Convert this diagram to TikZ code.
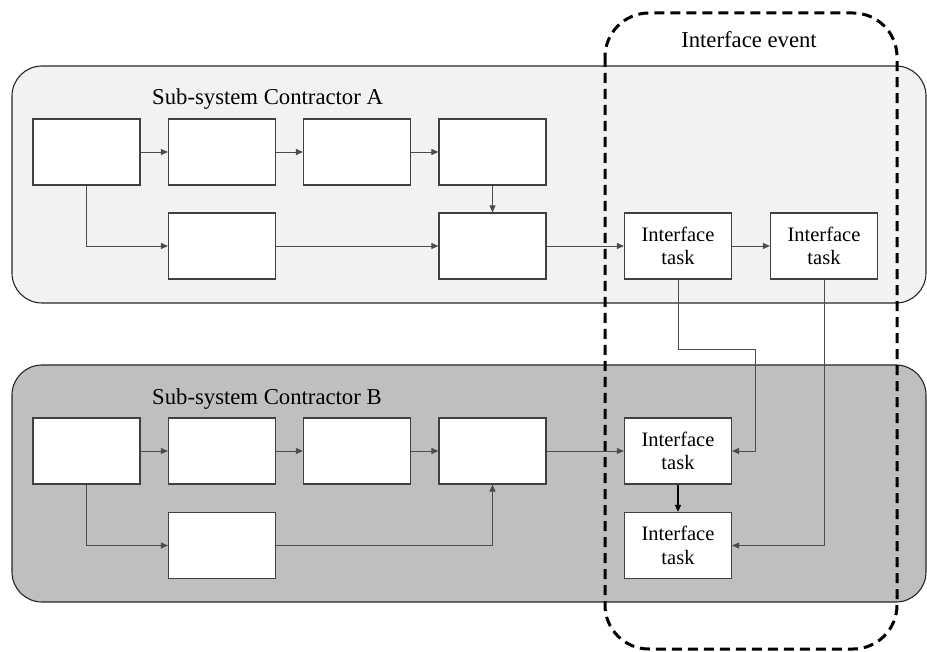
\documentclass[tikz,border=0pt]{standalone}
\usepackage{fontspec}
\setmainfont{Liberation Serif}
\newfontfamily\labelfont{Liberation Serif}
\usetikzlibrary{arrows.meta}

\begin{document}
\begin{tikzpicture}[x=1pt,y=-1pt,
  container/.style={draw=black!85, line width=1.1pt, rounded corners=30pt},
  taskbox/.style={draw=black!75, line width=1.2pt, fill=white,
    minimum width=107pt, minimum height=66pt, inner sep=0pt,
    align=center, font=\labelfont\fontsize{20.5}{23.5}\selectfont},
  conn/.style={draw=black!70, line width=0.9pt,
    -{Triangle[length=7pt,width=6pt]}},
  title/.style={font=\labelfont\fontsize{22.7}{26}\selectfont, inner sep=0pt},
  event/.style={draw=black, line width=3pt, dash pattern=on 10pt off 6pt,
    rounded corners=44pt}
]
\useasboundingbox (0,0) rectangle (927,652);

% sub-system containers
\draw[container, fill=black!5] (12,66) rectangle (926,303);
\draw[container, fill=black!25] (12,365) rectangle (926,602);
\node[title, anchor=base west] (ta) at (152,105) {Sub-system Contractor A};
\node[title, anchor=base west] (tb) at (152,405) {Sub-system Contractor B};

% interface event boundary
\draw[event] (605,13) rectangle (897,649);
\node[title, anchor=base] (te) at (749,48) {Interface event};

% contractor A tasks
\node[taskbox] (a1) at (86.5,152) {};
\node[taskbox] (a2) at (222,152) {};
\node[taskbox] (a3) at (357,152) {};
\node[taskbox] (a4) at (492.5,152) {};
\node[taskbox] (a5) at (222,246) {};
\node[taskbox] (a6) at (492.5,246) {};
\node[taskbox] (ia1) at (678,246) {Interface\\task};
\node[taskbox] (ia2) at (824,246) {Interface\\task};

% contractor B tasks
\node[taskbox] (b1) at (86.5,451) {};
\node[taskbox] (b2) at (222,451) {};
\node[taskbox] (b3) at (357,451) {};
\node[taskbox] (b4) at (492.5,451) {};
\node[taskbox] (b5) at (222,545.5) {};
\node[taskbox] (ib1) at (678,451) {Interface\\task};
\node[taskbox] (ib2) at (678,545.5) {Interface\\task};

% links inside A
\draw[conn] (a1) -- (a2);
\draw[conn] (a2) -- (a3);
\draw[conn] (a3) -- (a4);
\draw[conn] (a4) -- (a6);
\draw[conn] (a1.south) |- (a5.west);
\draw[conn] (a5) -- (a6);
\draw[conn] (a6) -- (ia1);
\draw[conn] (ia1) -- (ia2);

% links inside B
\draw[conn] (b1) -- (b2);
\draw[conn] (b2) -- (b3);
\draw[conn] (b3) -- (b4);
\draw[conn] (b1.south) |- (b5.west);
\draw[conn] (b5.east) -| (b4.south);
\draw[conn] (b4) -- (ib1);
\draw[conn, draw=black, line width=1.4pt] (ib1) -- (ib2);

% links between the sub-systems
\coordinate (bend) at (755,349);
\draw[conn] (ia1.south) |- (bend) |- (ib1.east);
\draw[conn] (ia2.south) |- (ib2.east);
\end{tikzpicture}
\end{document}
